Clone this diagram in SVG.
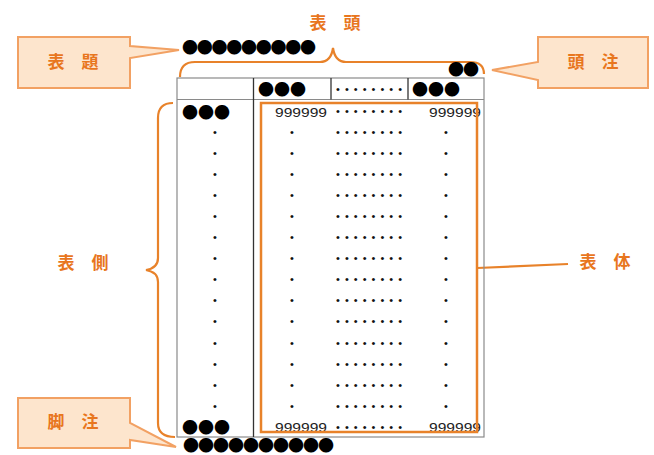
<svg xmlns="http://www.w3.org/2000/svg" width="654" height="455" viewBox="0 0 654 455">
<style>
.lbl{font-family:"Noto Sans CJK JP","Noto Sans CJK SC",sans-serif;font-weight:bold;font-size:17px;fill:#E8761E;text-anchor:middle}
.call{fill:#FDE5CD;stroke:#F2A163;stroke-width:2}
.brace{fill:none;stroke:#E8822A;stroke-width:2.2}
.big{font-family:"Noto Sans CJK JP",sans-serif;font-size:16px;fill:#000}
.num{font-family:"Liberation Sans",sans-serif;font-size:13px;fill:#222}
.dot{font-family:"Liberation Sans",sans-serif;font-size:11px;fill:#111;text-anchor:middle}
.dots{font-family:"Liberation Sans",sans-serif;font-size:11px;fill:#111}
.grid{stroke:#8a8a8a;stroke-width:1.2;fill:none}
.dark{stroke:#333;stroke-width:1.3}
</style>
<rect width="654" height="455" fill="#fff"/>

<g id="connectors">
  <path class="brace" d="M180,77 Q180,62 195,62 L320,62 Q331,62 333,48 Q335,62 346,62 L470,62 Q484,62 484,74"/>
  <path class="brace" d="M173,103 Q158,103 158,118 L158,258 Q158,268 146,270 Q158,272 158,282 L158,423 Q158,437 175,437"/>
  <path class="brace" d="M477,268 L568,264"/>
</g>

<g id="table">
  <rect class="grid" x="177" y="78" width="307" height="359"/>
  <line class="grid" x1="177" y1="99.5" x2="484" y2="99.5"/>
  <line class="dark" x1="253.5" y1="78" x2="253.5" y2="437"/>
  <line class="dark" x1="331" y1="78" x2="331" y2="99.5"/>
  <line class="dark" x1="408" y1="78" x2="408" y2="99.5"/>
  <text class="big" x="258" y="95" textLength="48" lengthAdjust="spacing">●●●</text>
  <text class="dots" x="336" y="93" textLength="66" lengthAdjust="spacing">••••••••</text>
  <text class="big" x="412" y="95" textLength="48" lengthAdjust="spacing">●●●</text>

  <text class="big" x="182" y="118" textLength="48" lengthAdjust="spacing">●●●</text>
  <text class="num" x="275" y="117" textLength="52" lengthAdjust="spacingAndGlyphs">999999</text>
  <text class="dots" x="336" y="115" textLength="66" lengthAdjust="spacing">••••••••</text>
  <text class="num" x="429" y="117" textLength="52" lengthAdjust="spacingAndGlyphs">999999</text>

  <g id="rows">
    <text class="dot" x="215" y="136">•</text><text class="dot" x="292" y="136">•</text><text class="dots" x="336" y="136" textLength="66" lengthAdjust="spacing">••••••••</text><text class="dot" x="446" y="136">•</text>
    <text class="dot" x="215" y="157">•</text><text class="dot" x="292" y="157">•</text><text class="dots" x="336" y="157" textLength="66" lengthAdjust="spacing">••••••••</text><text class="dot" x="446" y="157">•</text>
    <text class="dot" x="215" y="178">•</text><text class="dot" x="292" y="178">•</text><text class="dots" x="336" y="178" textLength="66" lengthAdjust="spacing">••••••••</text><text class="dot" x="446" y="178">•</text>
    <text class="dot" x="215" y="199">•</text><text class="dot" x="292" y="199">•</text><text class="dots" x="336" y="199" textLength="66" lengthAdjust="spacing">••••••••</text><text class="dot" x="446" y="199">•</text>
    <text class="dot" x="215" y="220">•</text><text class="dot" x="292" y="220">•</text><text class="dots" x="336" y="220" textLength="66" lengthAdjust="spacing">••••••••</text><text class="dot" x="446" y="220">•</text>
    <text class="dot" x="215" y="241">•</text><text class="dot" x="292" y="241">•</text><text class="dots" x="336" y="241" textLength="66" lengthAdjust="spacing">••••••••</text><text class="dot" x="446" y="241">•</text>
    <text class="dot" x="215" y="262">•</text><text class="dot" x="292" y="262">•</text><text class="dots" x="336" y="262" textLength="66" lengthAdjust="spacing">••••••••</text><text class="dot" x="446" y="262">•</text>
    <text class="dot" x="215" y="283">•</text><text class="dot" x="292" y="283">•</text><text class="dots" x="336" y="283" textLength="66" lengthAdjust="spacing">••••••••</text><text class="dot" x="446" y="283">•</text>
    <text class="dot" x="215" y="304">•</text><text class="dot" x="292" y="304">•</text><text class="dots" x="336" y="304" textLength="66" lengthAdjust="spacing">••••••••</text><text class="dot" x="446" y="304">•</text>
    <text class="dot" x="215" y="325">•</text><text class="dot" x="292" y="325">•</text><text class="dots" x="336" y="325" textLength="66" lengthAdjust="spacing">••••••••</text><text class="dot" x="446" y="325">•</text>
    <text class="dot" x="215" y="347">•</text><text class="dot" x="292" y="347">•</text><text class="dots" x="336" y="347" textLength="66" lengthAdjust="spacing">••••••••</text><text class="dot" x="446" y="347">•</text>
    <text class="dot" x="215" y="368">•</text><text class="dot" x="292" y="368">•</text><text class="dots" x="336" y="368" textLength="66" lengthAdjust="spacing">••••••••</text><text class="dot" x="446" y="368">•</text>
    <text class="dot" x="215" y="389">•</text><text class="dot" x="292" y="389">•</text><text class="dots" x="336" y="389" textLength="66" lengthAdjust="spacing">••••••••</text><text class="dot" x="446" y="389">•</text>
    <text class="dot" x="215" y="410">•</text><text class="dot" x="292" y="410">•</text><text class="dots" x="336" y="410" textLength="66" lengthAdjust="spacing">••••••••</text><text class="dot" x="446" y="410">•</text>
  </g>

  <text class="big" x="182" y="433" textLength="48" lengthAdjust="spacing">●●●</text>
  <text class="num" x="275" y="432" textLength="52" lengthAdjust="spacingAndGlyphs">999999</text>
  <text class="dots" x="336" y="431" textLength="66" lengthAdjust="spacing">••••••••</text>
  <text class="num" x="429" y="432" textLength="52" lengthAdjust="spacingAndGlyphs">999999</text>
</g>

<g id="body-frame">
  <rect x="261" y="103" width="216" height="329" fill="none" stroke="#E8822A" stroke-width="2.5"/>
</g>

<g id="title">
  <text class="big" x="182" y="53" textLength="134" lengthAdjust="spacing">●●●●●●●●●</text>
</g>
<g id="headnote">
  <text class="big" x="448" y="75" textLength="31" lengthAdjust="spacing">●●</text>
</g>
<g id="footnote">
  <text class="big" x="183" y="450.5" font-size="15.5" textLength="151" lengthAdjust="spacing">●●●●●●●●●●</text>
</g>

<g id="label-hyoto">
  <text class="lbl" x="335" y="29">表　頭</text>
</g>
<g id="label-hyosoku">
  <text class="lbl" x="83" y="269">表　側</text>
</g>
<g id="label-hyotai">
  <text class="lbl" x="605" y="268">表　体</text>
</g>

<g id="callout-hyodai">
  <path class="call" d="M18,37 H130 V46 L179,50 L130,58 V88 H18 Z"/>
  <text class="lbl" x="73" y="68">表　題</text>
</g>
<g id="callout-tochu">
  <path class="call" d="M538,37 H648 V88 H538 V80 L492,70 L538,62 Z"/>
  <text class="lbl" x="593" y="68">頭　注</text>
</g>
<g id="callout-kyakuchu">
  <path class="call" d="M18,398 H130 V423 L176,447 L130,440 V448 H18 Z"/>
  <text class="lbl" x="73" y="428">脚　注</text>
</g>
</svg>
